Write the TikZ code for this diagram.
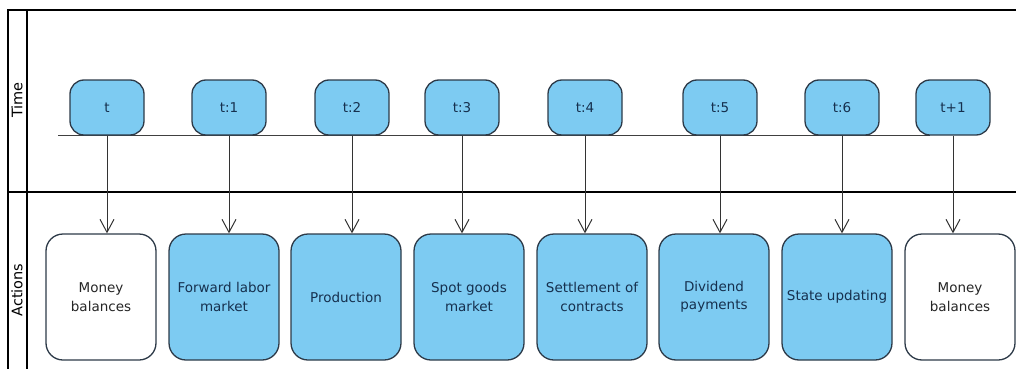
\documentclass[tikz,border=0pt]{standalone}
\usepackage{fontspec}
\setmainfont{DejaVu Sans}
\usepackage{tikz}
\usetikzlibrary{positioning, arrows.meta}
\definecolor{tlblue}{RGB}{125, 203, 242}
\definecolor{tlborder}{RGB}{45, 58, 72}
\definecolor{tltext}{RGB}{22, 48, 78}
\tikzset{
    lanebox/.style={draw=black, line width=1.8pt},
    timenode/.style={rectangle, rounded corners=14pt, draw=tlborder, line width=1.3pt, fill=tlblue,
        minimum width=74pt, minimum height=55pt, text=tltext, font=\fontsize{13.5}{18}\selectfont},
    actnode/.style={rectangle, rounded corners=17pt, draw=tlborder, line width=1.3pt, fill=tlblue,
        minimum width=110pt, minimum height=126pt, text=tltext, align=center, font=\fontsize{13.5}{18.5}\selectfont},
    moneynode/.style={actnode, fill=white, text=black!85},
    lanelabel/.style={rotate=90, font=\fontsize{14.5}{16}\selectfont},
    steparrow/.style={-{Straight Barb[length=13pt, width=14pt]}, line width=1pt, black!80}
}
\begin{document}
\begin{tikzpicture}[x=1pt, y=-1pt]
    \useasboundingbox (0,0) rectangle (1016,369);
    % swimlane frame
    \draw[lanebox] (1016,10) -- (8,10) -- (8,369);
    \draw[lanebox] (27,10) -- (27,369);
    \draw[lanebox] (8,192) -- (1016,192);
    \node[lanelabel] (timelane) at (17,100) {Time};
    \node[lanelabel] (actlane) at (17,290) {Actions};
    % time line
    \coordinate (tstart) at (58,135);
    \coordinate (tend) at (930,135);
    \draw[black!75, line width=0.9pt] (tstart) -- (tend);
    % time points
    \node[timenode] (t0) at (107,107.5) {t};
    \node[timenode] (t1) at (229,107.5) {t:1};
    \node[timenode] (t2) at (352,107.5) {t:2};
    \node[timenode] (t3) at (462,107.5) {t:3};
    \node[timenode] (t4) at (585,107.5) {t:4};
    \node[timenode] (t5) at (720,107.5) {t:5};
    \node[timenode] (t6) at (842,107.5) {t:6};
    \node[timenode] (t7) at (953,107.5) {t+1};
    % actions
    \node[moneynode] (a0) at (101,297) {Money\\balances};
    \node[actnode] (a1) at (224,297) {Forward labor\\market};
    \node[actnode] (a2) at (346,297) {Production};
    \node[actnode] (a3) at (469,297) {Spot goods\\market};
    \node[actnode] (a4) at (592,297) {Settlement of\\contracts};
    \node[actnode] (a5) at (714,297) {Dividend\\payments};
    \node[actnode] (a6) at (837,297) {State updating};
    \node[moneynode] (a7) at (960,297) {Money\\balances};
    % arrows
    \foreach \i in {0,...,7}
        \draw[steparrow] (t\i.south) -- (t\i.south |- a\i.north);
\end{tikzpicture}
\end{document}
